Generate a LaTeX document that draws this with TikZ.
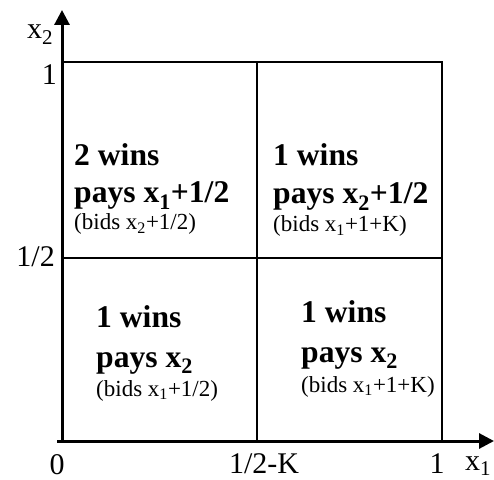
\documentclass[tikz,border=0pt]{standalone}
\usepackage{fontspec}
\setmainfont{Liberation Serif}
\usetikzlibrary{arrows.meta}
\begin{document}
\begin{tikzpicture}[x=1pt,y=1pt,
  axisline/.style={line width=3pt,-{Triangle[length=15pt,width=15pt]}},
  boxline/.style={line width=2.2pt},
  divline/.style={line width=1.5pt},
  lab/.style={font=\fontsize{30}{30}\selectfont, inner sep=0pt},
  bigtxt/.style={font=\fontsize{31.6}{31.6}\selectfont\bfseries, inner sep=0pt, anchor=base west},
  smalltxt/.style={font=\fontsize{23}{23}\selectfont, inner sep=0pt, anchor=base west}]
\useasboundingbox (0,0) rectangle (494,479);
% key points
\coordinate (O) at (62,38);
\coordinate (Ox) at (57,38);
\coordinate (Xend) at (494,38);
\coordinate (Yend) at (62,469);
\coordinate (TL) at (62,417);
\coordinate (TR) at (442,417);
\coordinate (BR) at (442,38);
\coordinate (MT) at (257,417);
\coordinate (MB) at (257,38);
\coordinate (ML) at (62,221);
\coordinate (MR) at (442,221);
% axes
\draw[axisline] (Ox) -- (Xend);
\draw[axisline] (O) -- (Yend);
% box
\draw[boxline] (TL) -- (TR) -- (BR);
\draw[divline] (MT) -- (MB);
\draw[divline] (ML) -- (MR);
% axis labels
\node[lab, anchor=base west] (ylab) at (27,440) {x\textsubscript{2}};
\node[lab, anchor=base east] (yone) at (57,394) {1};
\node[lab, anchor=base east] (yhalf) at (55,212) {1/2};
\node[lab, anchor=base] (xzero) at (57,5) {0};
\node[lab, anchor=base] (xmid) at (264,6) {1/2-K};
\node[lab, anchor=base] (xone) at (437,6) {1};
\node[lab, anchor=base west] (xlab) at (465,9) {x\textsubscript{1}};
% upper left
\node[bigtxt] (ula) at (74,313) {2 wins};
\node[bigtxt] (ulb) at (74,276) {pays x\textsubscript{1}+1/2};
\node[smalltxt] (ulc) at (74,249) {(bids x\textsubscript{2}+1/2)};
% upper right
\node[bigtxt] (ura) at (273,313) {1 wins};
\node[bigtxt] (urb) at (273,275) {pays x\textsubscript{2}+1/2};
\node[smalltxt] (urc) at (273,247) {(bids x\textsubscript{1}+1+K)};
% lower left
\node[bigtxt] (lla) at (96,152) {1 wins};
\node[bigtxt] (llb) at (96,112) {pays x\textsubscript{2}};
\node[smalltxt] (llc) at (96,83) {(bids x\textsubscript{1}+1/2)};
% lower right
\node[bigtxt] (lra) at (301,157) {1 wins};
\node[bigtxt] (lrb) at (301,117) {pays x\textsubscript{2}};
\node[smalltxt] (lrc) at (301,87) {(bids x\textsubscript{1}+1+K)};
\end{tikzpicture}
\end{document}
